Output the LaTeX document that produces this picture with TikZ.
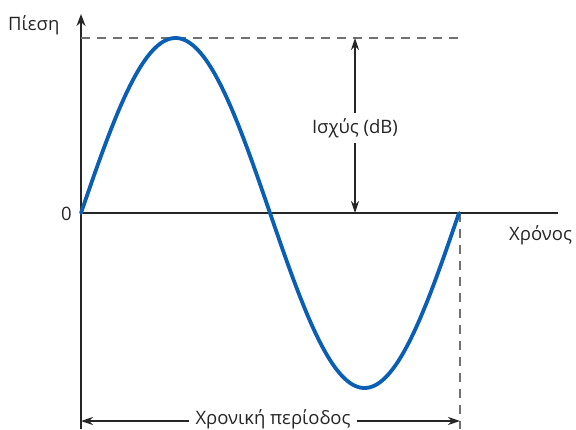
\documentclass[tikz,border=0pt]{standalone}
\usepackage{fontspec}
\setmainfont{Open Sans}
\usetikzlibrary{arrows.meta}
\definecolor{wave}{HTML}{0A5FB4}
\definecolor{dashgray}{HTML}{707070}
\tikzset{
  axis/.style={line width=1.8pt, draw=black!85},
  arr/.style={line width=1.3pt, draw=black!85},
  guide/.style={line width=1.2pt, draw=dashgray, dash pattern=on 9pt off 7pt},
  lbl/.style={font=\fontsize{18.5}{21}\selectfont, text=black!85, inner sep=1pt}
}
\begin{document}
\begin{tikzpicture}[x=1pt,y=-1pt]
\useasboundingbox (0,0) rectangle (576,429);
\coordinate (O) at (81,213);
\coordinate (Ytop) at (81,14);
\coordinate (Ybot) at (81,429);
\coordinate (Xend) at (558,213);
\coordinate (Dl) at (81,38);
\coordinate (Dr) at (460,38);
\coordinate (Vt) at (460,213);
\coordinate (Vb) at (460,429);
\coordinate (Pt) at (355,38);
\coordinate (Pb) at (355,213);
\coordinate (Tl) at (81,421);
\coordinate (Tr) at (460,421);
% axes
\draw[axis] (Ybot) -- (O);
\draw[axis, -{Stealth[length=12pt,width=9pt]}] (O) -- (Ytop);
\draw[axis] (O) -- (Xend);
% dashed guides
\draw[guide] (Dl) -- (Dr);
\draw[guide] (Vt) -- (Vb);
% sine wave
\draw[wave, line width=3.8pt, line cap=round, domain=0:378, samples=150, smooth]
  plot ({81+\x}, {213-175*sin(\x/378*360)});
% labels
\node[lbl, anchor=base west] (pres) at (7,30) {Πίεση};
\node[lbl, anchor=east] (zero) at (73,214) {0};
\node[lbl, anchor=base west] (time) at (508,240) {Χρόνος};
\node[lbl, fill=white, inner sep=5pt] (pow) at (355,128) {Ισχύς (dB)};
\node[lbl, fill=white, inner sep=6pt] (per) at (273,419) {Χρονική περίοδος};
% arrows
\draw[arr, -{Stealth[length=12pt,width=8pt]}] (pow.north) -- (Pt);
\draw[arr, -{Stealth[length=12pt,width=8pt]}] (pow.south) -- (Pb);
\draw[arr, -{Stealth[length=12pt,width=8pt]}] (Tl -| per.west) -- (Tl);
\draw[arr, -{Stealth[length=12pt,width=8pt]}] (Tr -| per.east) -- (Tr);
\end{tikzpicture}
\end{document}
